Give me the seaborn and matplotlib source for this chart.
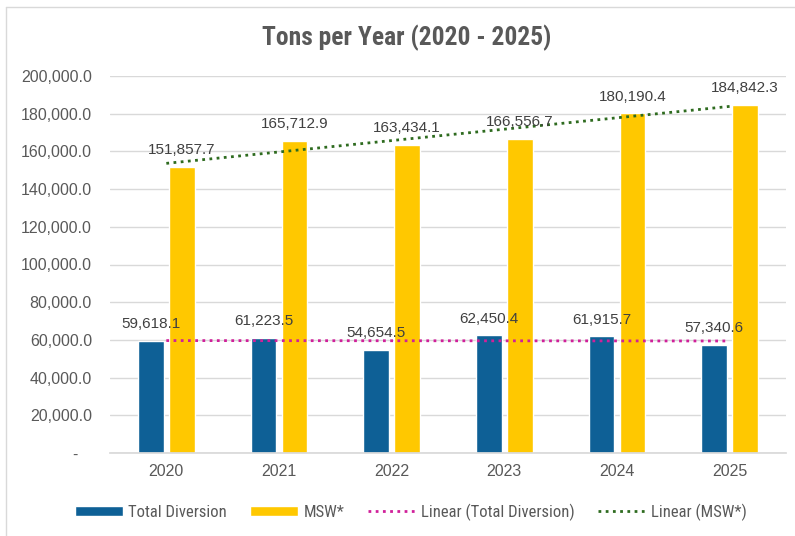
import numpy as np
import pandas as pd
import matplotlib
matplotlib.use("Agg")
import matplotlib.pyplot as plt
import seaborn as sns
from matplotlib.patches import Patch
from matplotlib.lines import Line2D

years = ["2020", "2021", "2022", "2023", "2024", "2025"]
total_diversion = [59618.1, 61223.5, 54654.5, 62450.4, 61915.7, 57340.6]
msw = [151857.7, 165712.9, 163434.1, 166556.7, 180190.4, 184842.3]
series_names = ["Total Diversion", "MSW*"]
y_ticks = [0, 20000, 40000, 60000, 80000, 100000, 120000, 140000, 160000, 180000, 200000]

BLUE = "#0E6096"
YELLOW = "#FFC800"
MAGENTA = "#D0209A"
GREEN = "#2E6B1F"
TXT = "#595959"

df = pd.DataFrame({
    "Year": years * 2,
    "Tons": total_diversion + msw,
    "Series": [series_names[0]] * 6 + [series_names[1]] * 6,
})

sns.set_theme(style="white")
plt.rcParams["font.family"] = ["Liberation Sans", "DejaVu Sans"]

fig = plt.figure(figsize=(7.95, 5.36), dpi=100)
ax = fig.add_axes([110 / 795, 1 - 453 / 536, (786 - 110) / 795, (453 - 76) / 536])

sns.barplot(data=df, x="Year", y="Tons", hue="Series", palette=[BLUE, YELLOW],
            width=0.55, gap=0.18, ax=ax, legend=False, saturation=1)

for cont, vals in zip(ax.containers, [total_diversion, msw]):
    for bar, v in zip(cont, vals):
        ax.annotate(f"{v:,.1f}", (bar.get_x() + bar.get_width() / 2, bar.get_height()),
                    xytext=(0, 7), textcoords="offset points", ha="center", va="bottom",
                    fontsize=11, color="#404040")

x = np.arange(len(years))
for vals, col in [(total_diversion, MAGENTA), (msw, GREEN)]:
    k, b = np.polyfit(x, vals, 1)
    ax.plot(x, k * x + b, linestyle=(0, (1, 1.6)), color=col, linewidth=2)

ax.set_ylim(0, 200000)
ax.set_xlim(-0.5, 5.5)
ax.set_yticks(y_ticks)
ax.set_yticklabels(["-   " if v == 0 else f"{v:,.1f}" for v in y_ticks])
ax.grid(axis="y", color="#D9D9D9", linewidth=1)
ax.set_axisbelow(True)
for s in ["top", "right", "left"]:
    ax.spines[s].set_visible(False)
ax.spines["bottom"].set_color("#D9D9D9")
ax.tick_params(axis="both", length=0, labelsize=11.5, labelcolor=TXT)
ax.tick_params(axis="y", pad=13)
ax.tick_params(axis="x", pad=8)
ax.set_xlabel("")
ax.set_ylabel("")

fig.text(407 / 795, 1 - 38 / 536, "Tons per Year (2020 - 2025)", ha="center", va="center",
         fontsize=18.4, fontweight="bold", color=TXT,
         family=["Roboto Condensed", "DejaVu Sans"])

handles = [
    Patch(facecolor=BLUE, label="Total Diversion"),
    Patch(facecolor=YELLOW, label="MSW*"),
    Line2D([0], [0], color=MAGENTA, linestyle=(0, (1, 1.6)), linewidth=2, label="Linear (Total Diversion)"),
    Line2D([0], [0], color=GREEN, linestyle=(0, (1, 1.6)), linewidth=2, label="Linear (MSW*)"),
]
leg = fig.legend(handles=handles, loc="center", bbox_to_anchor=(411 / 795, 1 - 512 / 536), ncol=4,
                 frameon=False, handlelength=2.9, handleheight=0.6,
                 columnspacing=1.4, handletextpad=0.3,
                 prop={"family": ["Roboto Condensed", "DejaVu Sans"], "size": 12})
for t in leg.get_texts():
    t.set_color(TXT)

fig.add_artist(Line2D([6 / 795, 6 / 795], [0, 1 - 7 / 536], transform=fig.transFigure, color="#D9D9D9", linewidth=1))
fig.add_artist(Line2D([6 / 795, 1], [1 - 7 / 536, 1 - 7 / 536], transform=fig.transFigure, color="#D9D9D9", linewidth=1))

fig.savefig("out.png", dpi=100, facecolor="white")
